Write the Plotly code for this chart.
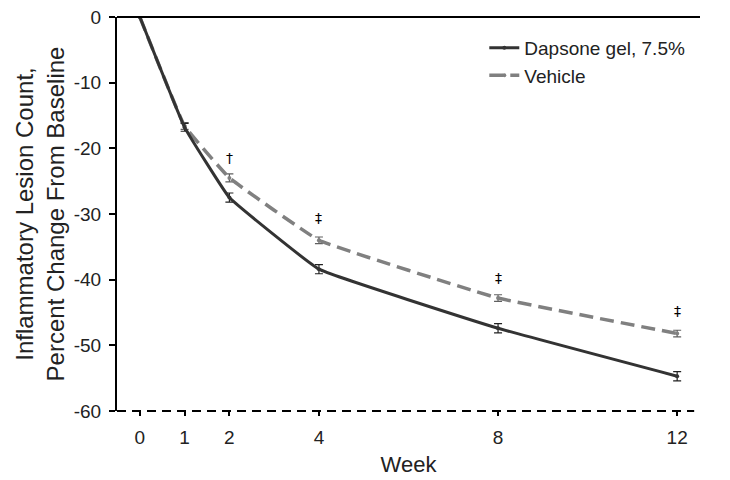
import plotly.graph_objects as go

weeks = [0, 1, 2, 4, 8, 12]
dapsone = [0, -16.8, -27.5, -38.4, -47.4, -54.7]
dapsone_err = [0, 0.6, 0.7, 0.7, 0.7, 0.7]
vehicle = [0, -16.6, -24.5, -34.0, -42.8, -48.2]
vehicle_err = [0, 0.5, 0.6, 0.5, 0.5, 0.5]
sig_weeks = [2, 4, 8, 12]
sig_y = [-21.4, -30.6, -39.8, -44.7]
sig_marks = ["†", "‡", "‡", "‡"]
y_ticks = [0, -10, -20, -30, -40, -50, -60]
y_tick_labels = ["0", "-10", "-20", "-30", "-40", "-50", "-60"]

FONT = "Liberation Sans, Arial, sans-serif"

fig = go.Figure()
fig.add_trace(go.Scatter(
    x=weeks, y=vehicle, name="Vehicle", mode="lines+markers",
    line=dict(color="#808080", width=3.5, dash="14px,7px", shape="spline", smoothing=0.25),
    marker=dict(size=4, color="#808080"),
    error_y=dict(type="data", array=vehicle_err, color="#606060", thickness=1.2, width=4),
))
fig.add_trace(go.Scatter(
    x=weeks, y=dapsone, name="Dapsone gel, 7.5%", mode="lines+markers",
    line=dict(color="#333333", width=3, shape="spline", smoothing=0.25),
    marker=dict(size=4, color="#333333"),
    error_y=dict(type="data", array=dapsone_err, color="#222222", thickness=1.2, width=4),
))

for xw, yv, m in zip(sig_weeks, sig_y, sig_marks):
    fig.add_annotation(x=xw, y=yv, text=m, showarrow=False,
                       font=dict(size=14, color="#000000", family="DejaVu Sans"))

# top solid zero line and dashed bottom line (paper refs so they are not clipped)
fig.add_shape(type="line", xref="paper", yref="paper", x0=0, x1=1, y0=1, y1=1,
              line=dict(color="black", width=2), layer="above")
fig.add_shape(type="line", xref="paper", yref="paper", x0=0, x1=0.99, y0=0, y1=0,
              line=dict(color="black", width=2, dash="9px,6px"), layer="above")

# page body has an 8px margin, so the figure is 8px smaller and margins shifted
fig.update_layout(
    width=722, height=472,
    margin=dict(l=109, r=30, t=9, b=69, autoexpand=False),
    paper_bgcolor="white", plot_bgcolor="white",
    font=dict(family=FONT, size=19, color="#222222"),
    showlegend=True,
    legend=dict(x=0.63, y=0.97, xanchor="left", yanchor="top",
                traceorder="reversed", font=dict(size=19, color="#222222"),
                bgcolor="rgba(0,0,0,0)", tracegroupgap=0, itemwidth=30),
    xaxis=dict(range=[-0.51, 12.51], tickvals=weeks, ticktext=[str(w) for w in weeks],
               showgrid=False, zeroline=False, showline=False, automargin=False,
               ticks="outside", ticklen=4, tickwidth=1.5, tickcolor="black",
               ticklabelstandoff=5, ticklabeloverflow="allow",
               title=dict(text="Week", font=dict(size=22), standoff=9)),
    yaxis=dict(range=[-60, 0], tickvals=y_ticks, ticktext=y_tick_labels,
               showgrid=False, zeroline=False, automargin=False,
               showline=True, linecolor="black", linewidth=2,
               ticks="outside", ticklen=6, tickwidth=2, tickcolor="black",
               ticklabelstandoff=4, ticklabeloverflow="allow",
               title=dict(text="Inflammatory Lesion Count,<br>Percent Change From Baseline",
                          font=dict(size=24), standoff=2)),
)

fig.write_html("out.html")
